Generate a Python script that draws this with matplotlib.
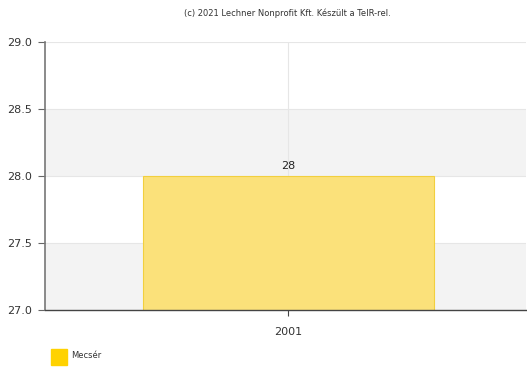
import matplotlib
matplotlib.use("Agg")
import matplotlib.pyplot as plt

categories = ["2001"]
values = [28]
series_name = "Mecsér"
yticks = [27.0, 27.5, 28.0, 28.5, 29.0]

fig = plt.figure(figsize=(5.27, 3.67), dpi=100)
ax = fig.add_axes([45/527, 57/367, 481/527, 268/367])

ax.set_xlim(-0.506, 0.494)

# alternating bands
for i in range(len(yticks) - 1):
    if i % 2 == 0:
        ax.axhspan(yticks[i], yticks[i + 1], color="#f3f3f3", zorder=0, lw=0)
for y in yticks[1:]:
    ax.axhline(y, color="#e6e6e6", lw=0.8, zorder=0.5)

x = list(range(len(categories)))
ax.axvline(x[0], color="#e6e6e6", lw=0.8, zorder=0.5)
bars = ax.bar(x, values, width=0.605, color="#fbe17a", edgecolor="#f2cf3e",
              linewidth=0.8, zorder=2)
ax.set_ylim(27.0, 29.0)
for xi, v in zip(x, values):
    ax.text(xi, v + 0.04, f"{v}", ha="center", va="bottom", fontsize=8, color="#222222", zorder=3)

ax.set_xticks(x)
ax.set_xticklabels(categories, fontsize=8, color="#333333")
ax.set_yticks(yticks)
ax.set_yticklabels([f"{t:.1f}" for t in yticks], fontsize=8, color="#333333")
ax.tick_params(axis="y", length=5, width=0.8, color="#666666", pad=4)
ax.tick_params(axis="x", length=4, width=0.8, color="#444444", pad=8)

for s in ["top", "right"]:
    ax.spines[s].set_visible(False)
ax.spines["left"].set_color("#777777")
ax.spines["left"].set_linewidth(1.2)
ax.spines["bottom"].set_color("#444444")
ax.spines["bottom"].set_linewidth(1.0)

fig.text(0.545, 0.963, "(c) 2021 Lechner Nonprofit Kft. Készült a TeIR-rel.",
         ha="center", va="center", fontsize=6, color="#333333")

# legend
fig.patches.append(matplotlib.patches.Rectangle((51/527, (367-365)/367), 16/527, 16/367,
                   transform=fig.transFigure, color="#ffd200", figure=fig))
fig.text(71/527, (367-356)/367, series_name, ha="left", va="center", fontsize=6, color="#333333")

fig.savefig("out.png", dpi=100)
